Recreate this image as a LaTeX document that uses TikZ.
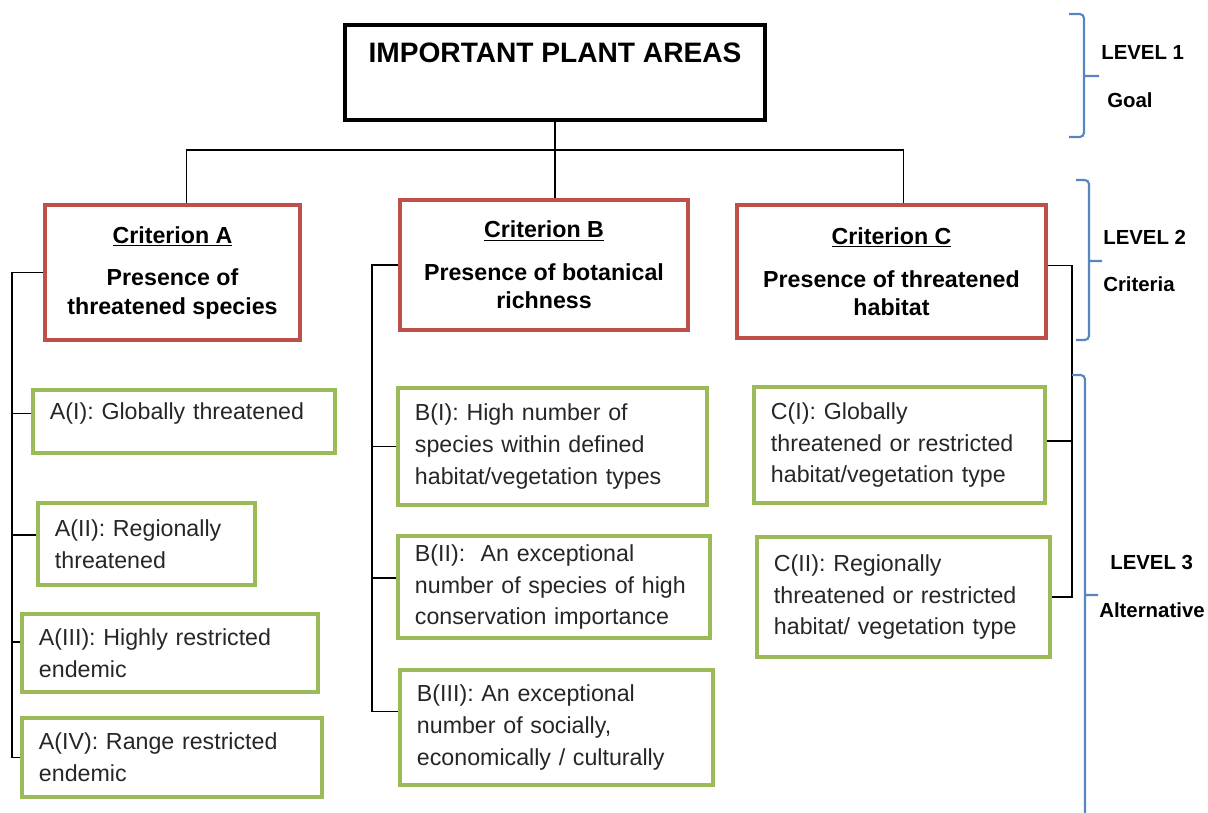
\documentclass[tikz,border=0pt]{standalone}
\usepackage{fontspec}
\setmainfont{Liberation Sans}
\usetikzlibrary{positioning}
\definecolor{critred}{RGB}{190,80,76}
\definecolor{altgreen}{RGB}{155,187,89}
\definecolor{levelblue}{RGB}{88,132,192}
\newcommand{\crithead}[1]{\underline{#1}}

\tikzset{
  goalbox/.style={draw,line width=2.6pt,minimum width=10.5cm,minimum height=2.375cm,inner ysep=12pt,text height=14.5pt,text depth=28.8pt,font=\fontsize{20}{24}\selectfont\bfseries},
  critbox/.style={draw=critred,line width=2.6pt,align=center,font=\fontsize{16.5}{20}\selectfont\bfseries},
  altbox/.style={draw=altgreen,line width=2.4pt,align=left,inner xsep=0.425cm,text=black!85,font=\fontsize{16.5}{22.5}\selectfont},
  link/.style={line width=0.8pt},
  levelbrace/.style={levelblue,line width=1.5pt,rounded corners=3pt},
  leveltext/.style={anchor=west,inner sep=0pt,font=\fontsize{14.5}{17}\selectfont\bfseries}
}

\begin{document}
\begin{tikzpicture}[x=0.025cm,y=-0.025cm]
\useasboundingbox (0,0) rectangle (1208,812);

% level 1
\node[goalbox] (goal) at (555,72.5) {IMPORTANT PLANT AREAS};

% level 2
\node[critbox,minimum width=6.375cm,minimum height=3.375cm] (critA) at (172.5,272.5) {\crithead{Criterion A}\\[10.5pt]Presence of\\threatened species};
\node[critbox,minimum width=7.2cm,minimum height=3.25cm] (critB) at (544,265) {\crithead{Criterion B}\\[10.5pt]Presence of botanical\\richness};
\node[critbox,minimum width=7.725cm,minimum height=3.325cm] (critC) at (891.5,271.5) {\crithead{Criterion C}\\[10.5pt]Presence of threatened\\habitat};

% level 3
\node[altbox,text width=6.70cm,minimum height=1.575cm,text depth=15pt] (altA1) at (184,421.5) {A(I): Globally threatened};
\node[altbox,text width=4.575cm,minimum height=2.05cm] (altA2) at (146.5,544) {A(II): Regionally\\threatened};
\node[altbox,text width=6.55cm,minimum height=1.95cm] (altA3) at (170,653) {A(III): Highly restricted\\endemic};
\node[altbox,text width=6.65cm,minimum height=1.975cm] (altA4) at (172,757.5) {A(IV): Range restricted\\endemic};
\node[altbox,text width=6.875cm,minimum height=2.925cm] (altB1) at (552.5,446.5) {B(I): High number of\\species within defined\\habitat/vegetation types};
\node[altbox,text width=6.95cm,minimum height=2.55cm] (altB2) at (554,587) {B(II): \ An exceptional\\number of species of high\\conservation importance};
\node[altbox,text width=6.975cm,minimum height=2.875cm] (altB3) at (556.5,727.5) {B(III): An exceptional\\number of socially,\\economically / culturally};
\node[altbox,text width=6.425cm,minimum height=2.9cm] (altC1) at (899.5,445) {C(I): Globally\\threatened or restricted\\habitat/vegetation type};
\node[altbox,text width=6.475cm,minimum height=3.0cm] (altC2) at (903.5,597) {C(II): Regionally\\threatened or restricted\\habitat/ vegetation type};

% goal to criteria
\coordinate (bus) at (555,150);
\draw[link] (goal.south) -- (goal.south |- critB.north);
\draw[link] ([xshift=0.34cm]critA.north) |- (bus) -| ([xshift=0.29cm]critC.north);

% criteria to alternatives
\coordinate (spineA) at (12,0);
\coordinate (spineB) at (372,0);
\coordinate (spineC) at (1072,0);
\draw[link] (critA.west) -- (critA.west -| spineA) -- (altA4.west -| spineA) -- (altA4.west);
\foreach \n/\s in {altA1/0.21,altA2/0.225,altA3/0.275}
  \draw[link] ([yshift=\s cm]\n.west) -- ([yshift=\s cm]\n.west -| spineA);
\draw[link] (critB.west) -- (critB.west -| spineB) -- ([yshift=0.39cm]altB3.west -| spineB) -- ([yshift=0.39cm]altB3.west);
\foreach \n/\s in {altB1/0,altB2/0.225}
  \draw[link] ([yshift=\s cm]\n.west) -- ([yshift=\s cm]\n.west -| spineB);
\draw[link] ([yshift=0.14cm]critC.east) -- ([yshift=0.14cm]critC.east -| spineC) -- (altC2.east -| spineC) -- (altC2.east);
\draw[link] ([yshift=0.1cm]altC1.east) -- ([yshift=0.1cm]altC1.east -| spineC);

% levels
\draw[levelbrace] (1069,14) -- (1084,14) -- (1084,137) -- (1069,137) (1084,76) -- (1099,76);
\draw[levelbrace] (1076,180) -- (1089,180) -- (1089,340) -- (1076,340) (1089,261) -- (1102,261);
\draw[levelbrace] (1072,375) -- (1085,375) -- (1085,830) (1085,595) -- (1098,595);
\node[leveltext] (lv1) at (1101,52) {LEVEL 1};
\node[leveltext] (lv1name) at (1107,100) {Goal};
\node[leveltext] (lv2) at (1103,237) {LEVEL 2};
\node[leveltext] (lv2name) at (1103,284) {Criteria};
\node[leveltext] (lv3) at (1110,562) {LEVEL 3};
\node[leveltext] (lv3name) at (1099,610) {Alternative};
\end{tikzpicture}
\end{document}
